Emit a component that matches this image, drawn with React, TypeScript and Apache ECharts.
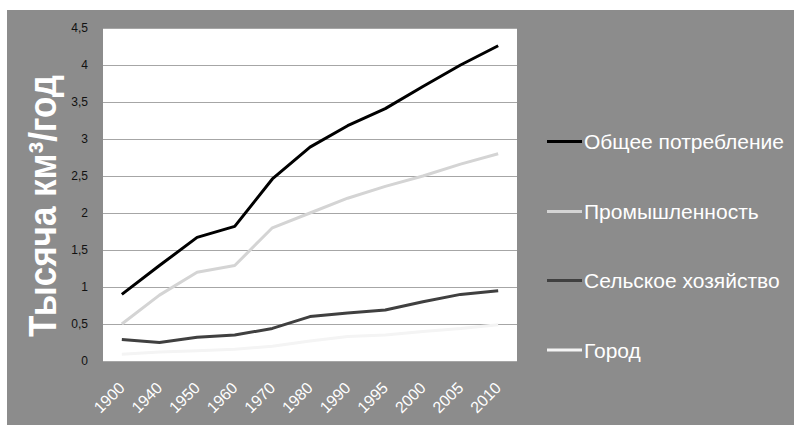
import React, { useEffect, useRef } from "react";
import * as echarts from "echarts";

const categories = ["1900", "1940", "1950", "1960", "1970", "1980", "1990", "1995", "2000", "2005", "2010"];
const totalUse = [0.9, 1.29, 1.67, 1.82, 2.46, 2.89, 3.18, 3.41, 3.71, 4.0, 4.26];
const industry = [0.5, 0.89, 1.2, 1.29, 1.8, 2.0, 2.2, 2.36, 2.5, 2.66, 2.8];
const agriculture = [0.29, 0.25, 0.32, 0.35, 0.44, 0.6, 0.65, 0.69, 0.8, 0.9, 0.95];
const city = [0.09, 0.12, 0.14, 0.16, 0.2, 0.27, 0.33, 0.35, 0.4, 0.44, 0.49];
const seriesNames = ["Общее потребление", "Промышленность", "Сельское хозяйство", "Город"];
const seriesColors = ["#000000", "#d4d4d4", "#404040", "#f4f4f4"];
const yTitle = "Тысяча км³/год";

const legendTops = [141.5, 211.5, 280.5, 350];

export default function App() {
  const ref = useRef<HTMLDivElement>(null);
  useEffect(() => {
    document.body.style.margin = "0";
    if (!ref.current) return;
    const chart = echarts.init(ref.current, undefined, { renderer: "svg" });
    const dataSets = [totalUse, industry, agriculture, city];
    const legendGraphics: any[] = [];
    seriesNames.forEach((n, i) => {
      legendGraphics.push({
        type: "line",
        silent: true,
        shape: { x1: 547, y1: legendTops[i], x2: 582, y2: legendTops[i] },
        style: { stroke: seriesColors[i], lineWidth: 3 },
      });
      legendGraphics.push({
        type: "text",
        x: 584,
        y: legendTops[i],
        style: {
          text: n,
          fill: "#ffffff",
          font: "21px 'Liberation Sans', Arial, sans-serif",
          align: "left",
          verticalAlign: "middle",
        },
      });
    });
    chart.setOption({
      animation: false,
      backgroundColor: "#ffffff",
      textStyle: { fontFamily: "Liberation Sans, Arial, sans-serif" },
      graphic: [
        {
          type: "rect",
          z: -10,
          silent: true,
          shape: { x: 7, y: 10, width: 787, height: 415 },
          style: { fill: "#8c8c8c" },
        },
        {
          type: "text",
          x: 43,
          y: 206,
          rotation: Math.PI / 2,
          scaleY: 1.1,
          style: {
            text: yTitle,
            fill: "#ffffff",
            font: "bold 35px 'Liberation Sans', Arial, sans-serif",
            align: "center",
            verticalAlign: "middle",
          },
        },
        ...legendGraphics,
      ],
      grid: {
        left: 103,
        right: 277,
        top: 28,
        bottom: 64,
        show: true,
        backgroundColor: "#ffffff",
        borderWidth: 0,
      },
      xAxis: {
        type: "category",
        data: categories,
        boundaryGap: true,
        axisLine: { show: false },
        axisTick: { show: false },
        axisLabel: {
          rotate: 45,
          color: "#ffffff",
          fontSize: 16,
          margin: 24,
          interval: 0,
        },
      },
      yAxis: {
        type: "value",
        min: 0,
        max: 4.5,
        interval: 0.5,
        axisLine: { show: false },
        axisTick: { show: false },
        splitLine: { show: true, lineStyle: { color: "#a6a6a6", width: 1 } },
        axisLabel: {
          color: "#111111",
          fontSize: 12,
          margin: 15,
          formatter: (v: number) => String(v).replace(".", ","),
        },
      },
      series: seriesNames.map((n, i) => ({
        name: n,
        type: "line",
        data: dataSets[i],
        symbol: "none",
        lineStyle: { color: seriesColors[i], width: 3 },
        itemStyle: { color: seriesColors[i] },
        z: 10 - i,
      })),
    });
    return () => chart.dispose();
  }, []);
  return <div ref={ref} style={{ width: 794, height: 425 }} />;
}
